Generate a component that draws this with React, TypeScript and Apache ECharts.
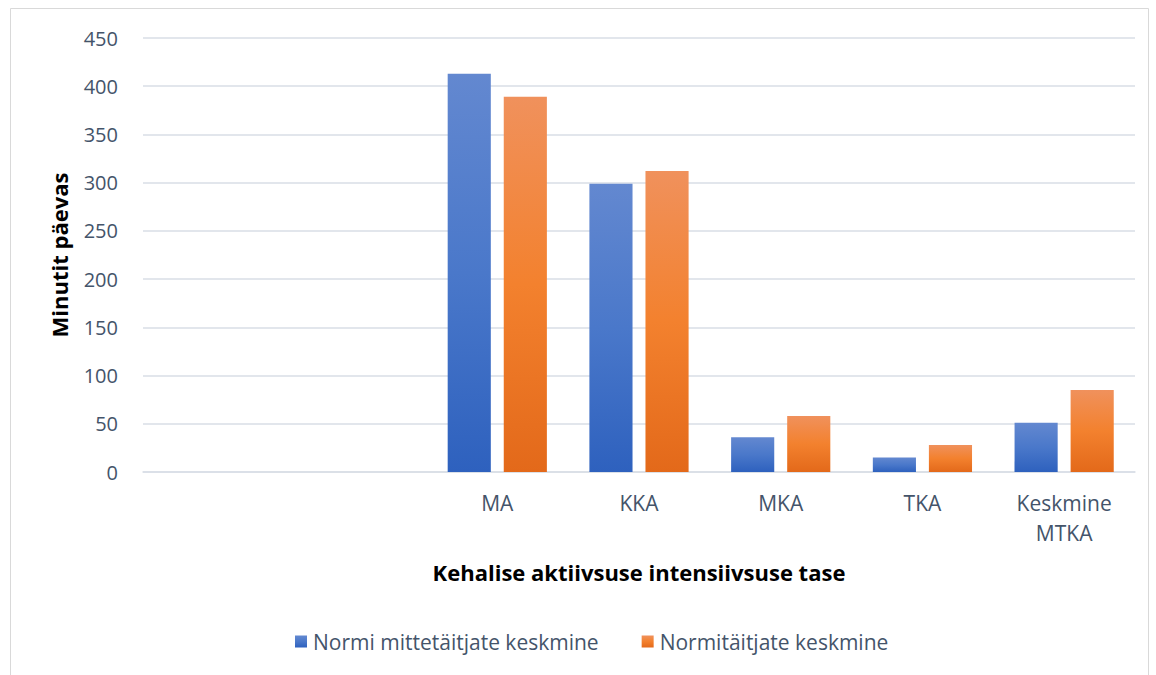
import React, { useEffect, useRef } from "react";
import * as echarts from "echarts";

const categories = ["", "", "MA", "KKA", "MKA", "TKA", "Keskmine\nMTKA"];
const seriesNames = ["Normi mittetäitjate keskmine", "Normitäitjate keskmine"];
const nonCompliers = [null, null, 413, 299, 36, 15, 51];
const compliers = [null, null, 389, 312, 58, 28, 85];
const yTicks = { min: 0, max: 450, interval: 50 };

const FONT = "'Open Sans', 'Noto Sans', sans-serif";
const TEXT = "#44546A";

export default function App() {
  const ref = useRef<HTMLDivElement>(null);
  useEffect(() => {
    document.body.style.margin = "0";
    const chart = echarts.init(ref.current!, null, { renderer: "svg" });
    const blue = new echarts.graphic.LinearGradient(0, 0, 0, 1, [
      { offset: 0, color: "#6388D0" },
      { offset: 0.5, color: "#4A78CA" },
      { offset: 1, color: "#2E61BE" },
    ]);
    const orange = new echarts.graphic.LinearGradient(0, 0, 0, 1, [
      { offset: 0, color: "#F0915C" },
      { offset: 0.5, color: "#F3812E" },
      { offset: 1, color: "#E3691A" },
    ]);
    chart.setOption({
      animation: false,
      textStyle: { fontFamily: FONT },
      graphic: [
        {
          type: "rect",
          shape: { x: 10.5, y: 8.5, width: 1138, height: 700 },
          style: { fill: "none", stroke: "#D9D9D9", lineWidth: 1 },
          silent: true,
        },
      ],
      grid: { left: 143, right: 21, top: 38, bottom: 203 },
      legend: {
        data: seriesNames,
        top: 626,
        left: 290,
        icon: "rect",
        itemWidth: 12,
        itemHeight: 12,
        itemGap: 43,
        textStyle: { color: TEXT, fontSize: 21, fontFamily: FONT, padding: [0, 0, 0, 1] },
      },
      xAxis: {
        type: "category",
        data: categories,
        name: "Kehalise aktiivsuse intensiivsuse tase",
        nameLocation: "middle",
        nameGap: 89,
        nameTextStyle: { color: "#000", fontSize: 22, fontWeight: "bold", fontFamily: FONT },
        axisLine: { lineStyle: { color: "#D9DEE6", width: 1.5 } },
        axisTick: { show: false },
        axisLabel: { color: TEXT, fontSize: 21, margin: 16, lineHeight: 30, fontFamily: FONT },
      },
      yAxis: {
        type: "value",
        min: yTicks.min,
        max: yTicks.max,
        interval: yTicks.interval,
        name: "Minutit päevas",
        nameLocation: "middle",
        nameGap: 73,
        nameTextStyle: { color: "#000", fontSize: 22, fontWeight: "bold", fontFamily: FONT },
        axisLine: { show: false },
        axisTick: { show: false },
        axisLabel: { color: TEXT, fontSize: 20, margin: 25, fontFamily: FONT },
        splitLine: { lineStyle: { color: "#D9DEE6", width: 1.5 } },
      },
      series: [
        {
          name: seriesNames[0],
          type: "bar",
          data: nonCompliers,
          itemStyle: { color: blue },
          barGap: "30%",
          barCategoryGap: "30%",
        },
        {
          name: seriesNames[1],
          type: "bar",
          data: compliers,
          itemStyle: { color: orange },
          barGap: "30%",
          barCategoryGap: "30%",
        },
      ],
    });
    return () => chart.dispose();
  }, []);
  return <div ref={ref} style={{ width: 1156, height: 675 }} />;
}
